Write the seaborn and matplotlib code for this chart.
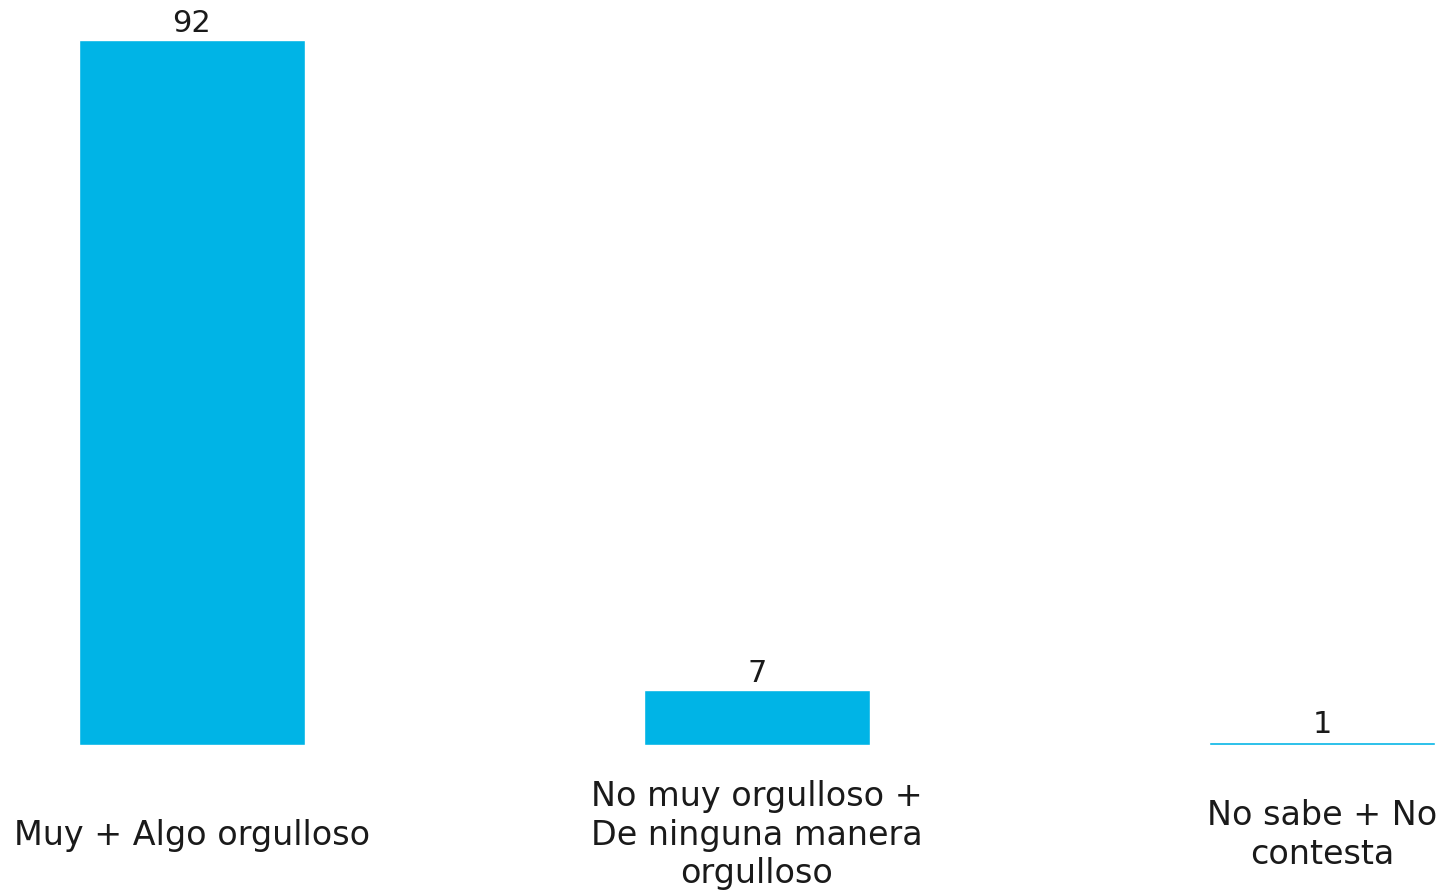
import matplotlib
matplotlib.use("Agg")
import matplotlib.pyplot as plt
import matplotlib.transforms as mtransforms
import seaborn as sns
import pandas as pd

categories = ["Muy + Algo orgulloso",
              "No muy orgulloso +\nDe ninguna manera\norgulloso",
              "No sabe + No\ncontesta"]
values = [92, 7.2, 0.45]
value_labels = ["92", "7", "1"]

sns.set_theme(style="white")
plt.rcParams['font.family'] = ['DejaVu Sans']

fig = plt.figure(figsize=(14.42, 8.92), dpi=100)
ax = fig.add_axes([0, 147 / 892, 1, 745 / 892])

df = pd.DataFrame({"cat": categories, "val": values})
sns.barplot(data=df, x="cat", y="val", color="#00B4E6", saturation=1,
            width=0.4, ax=ax)

ax.set_xlim(-192 / 565, 2 + 120 / 565)
ax.set_ylim(0, 745 / (705 / 92))
ax.set_xticks([])
ax.set_yticks([])
ax.set_xlabel("")
ax.set_ylabel("")
for s in ax.spines.values():
    s.set_visible(False)

for i, (v, lab) in enumerate(zip(values, value_labels)):
    ax.annotate(lab, (i, v), xytext=(0, 1.5), textcoords="offset points",
                ha="center", va="bottom", fontsize=22, color="#1a1a1a")

trans = mtransforms.blended_transform_factory(ax.transData, fig.transFigure)
for i, c in enumerate(categories):
    ax.text(i, 57 / 892, c, transform=trans, ha="center", va="center",
            multialignment="center", fontsize=24, color="#1a1a1a",
            linespacing=1.2)

fig.savefig("out.png", dpi=100)
